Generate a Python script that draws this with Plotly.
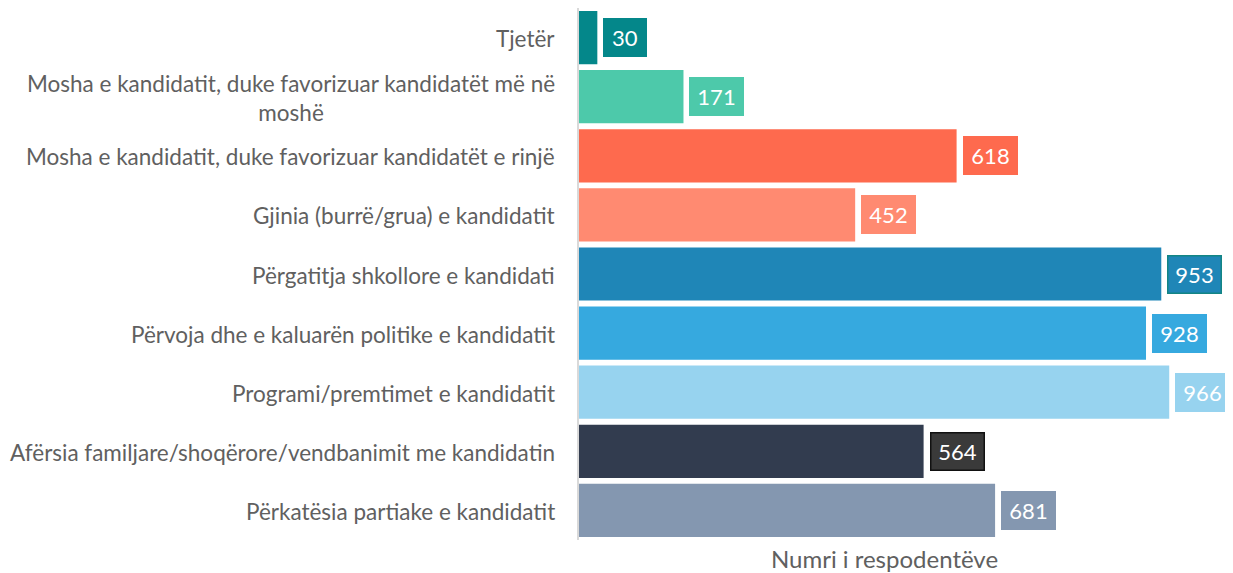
import plotly.graph_objects as go

# data (top to bottom)
categories = [
    "Tjetër",
    "Mosha e kandidatit, duke favorizuar kandidatët më në<br>moshë",
    "Mosha e kandidatit, duke favorizuar kandidatët e rinjë",
    "Gjinia (burrë/grua) e kandidatit",
    "Përgatitja shkollore e kandidati",
    "Përvoja dhe e kaluarën politike e kandidatit",
    "Programi/premtimet e kandidatit",
    "Afërsia familjare/shoqërore/vendbanimit me kandidatin",
    "Përkatësia partiake e kandidatit",
]
values = [30, 171, 618, 452, 953, 928, 966, 564, 681]
bar_colors = ["#04878A", "#4DC9AA", "#FE6A4E", "#FF8A71", "#1F86B7",
              "#36A9DF", "#97D3EF", "#323C4F", "#8497B0"]
label_bg = ["#04878A", "#4DC9AA", "#FE6A4E", "#FF8A71", "#1F86B7",
            "#36A9DF", "#97D3EF", "#3A3A3A", "#8497B0"]
label_border = ["#04878A", "#4DC9AA", "#FE6A4E", "#FF8A71", "#138585",
                "#36A9DF", "#97D3EF", "#111111", "#8497B0"]

FONT = "Lato"
GREY = "#606060"

fig = go.Figure()
fig.add_trace(go.Bar(
    x=values, y=categories, orientation="h",
    marker=dict(color=bar_colors, line=dict(width=0)),
    hoverinfo="x+y",
))

# boxed value labels
for cat, v, bg, bd in zip(categories, values, label_bg, label_border):
    txt = str(v)
    fig.add_annotation(x=v, y=cat, xref="x", yref="y", text=txt,
                       showarrow=False, xanchor="left", xshift=6,
                       width=11 * len(txt) + 11, height=28,
                       font=dict(family=FONT, size=22, color="white"),
                       bgcolor=bg, bordercolor=bd, borderwidth=1.5,
                       borderpad=4)

# category labels (centred multi-line like the original)
for cat in categories:
    fig.add_annotation(x=0, y=cat, xref="paper", yref="y", text=cat,
                       showarrow=False, xanchor="right", xshift=-22,
                       yshift=-1, align="center",
                       font=dict(family=FONT, size=22.5, color=GREY))

fig.update_layout(
    width=1225, height=565,
    margin=dict(l=571, r=43, t=0, b=33),
    plot_bgcolor="white", paper_bgcolor="white",
    bargap=0.1, showlegend=False,
    font=dict(family=FONT, color=GREY),
    xaxis=dict(range=[0, 1000], showticklabels=False, showgrid=False,
               zeroline=False, showline=False,
               title=dict(text="Numri i respodentëve", standoff=13,
                          font=dict(family=FONT, size=24, color=GREY))),
    yaxis=dict(autorange="reversed", showticklabels=False, showgrid=False,
               zeroline=False, showline=True, linecolor="#D9D9D9",
               linewidth=2, ticks=""),
)

fig.write_html("out.html")
